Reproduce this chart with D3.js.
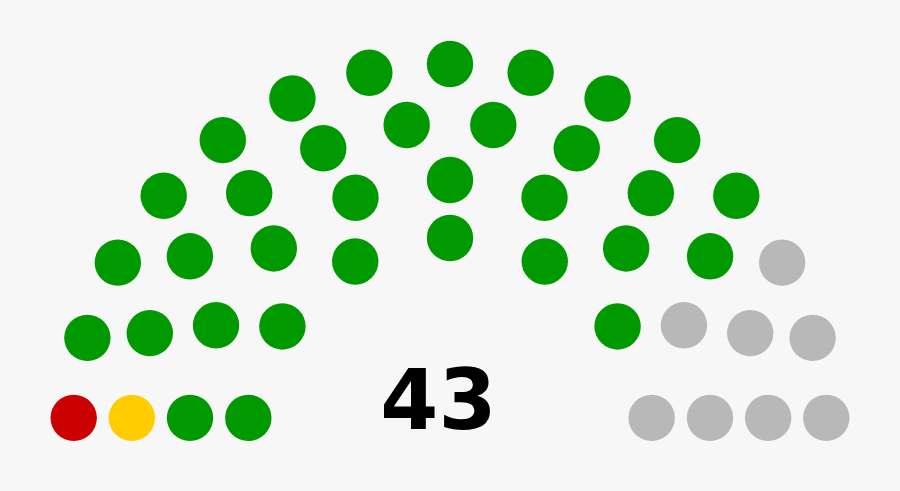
<!DOCTYPE html>
<html>
<head>
<meta charset="utf-8">
<script src="https://cdn.jsdelivr.net/npm/d3@7"></script>
<style>
  html, body { margin: 0; padding: 0; background: #f7f7f7; }
  svg { display: block; }
</style>
</head>
<body>
<svg id="chart" width="900" height="491"></svg>
<script>
// ---- data ----
const parties = ["Party A", "Party B", "Party C", "Other / Vacant"];
const seats = [1, 1, 33, 8];
const partyColors = ["#cc0000", "#ffcc00", "#009900", "#b8b8b8"];
const ringSeats = [7, 9, 12, 15];   // seats per ring, inner to outer
const totalLabel = "43";

// ---- layout ----
const width = 900, height = 491;
const svg = d3.select("#chart");
svg.append("rect").attr("width", width).attr("height", height).attr("fill", "#f7f7f7");

const nRows = ringSeats.length;
const seatR = 0.4 / nRows;                       // seat radius in ring units
const unit = d3.scaleLinear().domain([0, 1]).range([0, 232]);
const cx = 450, cy = 441;

// build seat positions (angle, radius) per ring
let pos = [];
ringSeats.forEach((J, idx) => {
  const i = idx + 1;
  const R = (3 * nRows + 4 * i - 2) / (4 * nRows);
  const off = Math.sin(seatR / R);
  for (let j = 0; j < J; j++) {
    const a = J === 1 ? Math.PI / 2 : j * (Math.PI - 2 * off) / (J - 1) + off;
    pos.push({ angle: a, R: R });
  }
});
// order left to right by angle (descending), outer ring first on ties
pos.sort((a, b) => (b.angle - a.angle) || (b.R - a.R));

// assign parties
const partyIdx = [];
seats.forEach((n, p) => { for (let k = 0; k < n; k++) partyIdx.push(p); });
pos.forEach((d, k) => { d.party = partyIdx[k]; });

svg.append("g").selectAll("circle")
  .data(pos)
  .join("circle")
  .attr("cx", d => cx + unit(d.R * Math.cos(d.angle)))
  .attr("cy", d => cy - unit(d.R * Math.sin(d.angle)))
  .attr("r", unit(seatR))
  .attr("fill", d => partyColors[d.party]);

svg.append("text")
  .attr("x", cx - unit(0.05))
  .attr("y", cy - unit(0.05))
  .attr("text-anchor", "middle")
  .attr("font-family", "DejaVu Sans, sans-serif")
  .attr("font-weight", "bold")
  .attr("font-size", unit(0.36))
  .attr("fill", "#000")
  .text(totalLabel);
</script>
</body>
</html>
